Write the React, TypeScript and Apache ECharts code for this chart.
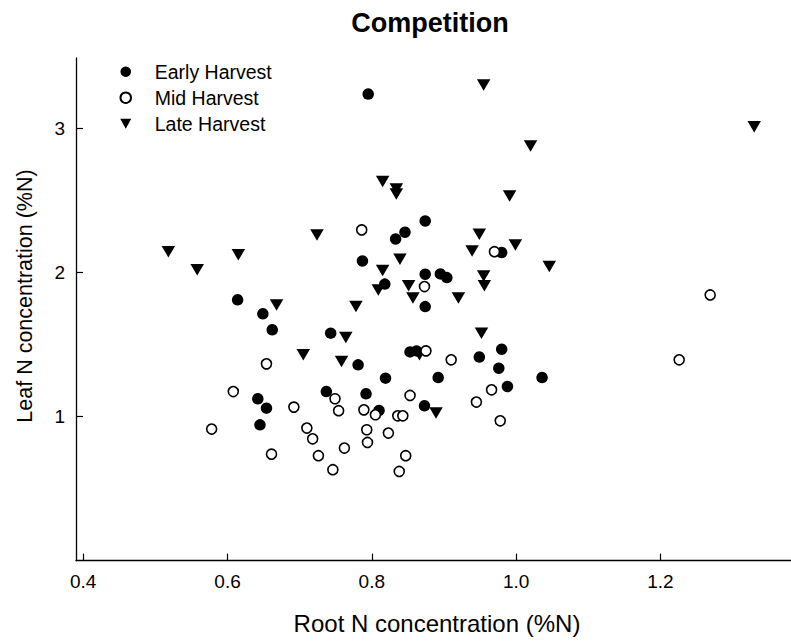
import React, { useEffect, useRef } from "react";
import * as echarts from "echarts";

const FONT = "'Liberation Sans', Arial, Helvetica, sans-serif";

const xTicks = [0.4, 0.6, 0.8, 1.0, 1.2];
const yTicks = [1, 2, 3];

const earlyHarvest: [number, number][] = [
  [0.795, 3.236], [0.874, 2.356], [0.846, 2.278], [0.833, 2.231], [0.787, 2.079],
  [0.98, 2.137], [0.818, 1.918], [0.874, 1.987], [0.895, 1.989], [0.904, 1.963],
  [0.874, 1.762], [0.743, 1.578], [0.614, 1.809], [0.649, 1.712], [0.662, 1.601],
  [0.781, 1.358], [0.819, 1.266], [0.737, 1.173], [0.792, 1.157], [0.642, 1.123],
  [0.654, 1.058], [0.645, 0.942], [0.81, 1.042], [0.853, 1.448], [0.862, 1.455],
  [0.949, 1.412], [0.98, 1.467], [0.976, 1.335], [0.988, 1.208], [1.036, 1.27],
  [0.892, 1.27], [0.873, 1.074],
];

const midHarvest: [number, number][] = [
  [0.786, 2.294], [0.97, 2.143], [0.873, 1.901], [0.654, 1.365], [0.608, 1.173],
  [0.578, 0.913], [0.692, 1.065], [0.749, 1.123], [0.754, 1.04], [0.789, 1.046],
  [0.805, 1.012], [0.71, 0.92], [0.718, 0.845], [0.793, 0.908], [0.794, 0.82],
  [0.823, 0.885], [0.762, 0.781], [0.661, 0.739], [0.726, 0.728], [0.746, 0.631],
  [0.875, 1.455], [0.91, 1.393], [0.966, 1.185], [0.945, 1.1], [0.978, 0.97],
  [0.853, 1.146], [0.836, 1.005], [0.843, 1.005], [0.847, 0.728], [0.838, 0.619],
  [1.269, 1.843], [1.226, 1.393],
];

const lateHarvest: [number, number][] = [
  [0.955, 3.299], [1.33, 3.01], [1.02, 2.876], [0.518, 2.143], [0.558, 2.017],
  [0.615, 2.121], [0.668, 1.774], [0.705, 1.428], [0.815, 2.629], [0.834, 2.578],
  [0.834, 2.543], [0.991, 2.529], [0.724, 2.259], [0.949, 2.264], [0.999, 2.19],
  [0.939, 2.148], [1.046, 2.04], [0.839, 2.091], [0.815, 2.012], [0.809, 1.878],
  [0.851, 1.906], [0.857, 1.821], [0.92, 1.821], [0.955, 1.975], [0.956, 1.906],
  [0.778, 1.762], [0.764, 1.547], [0.952, 1.578], [0.758, 1.381], [0.866, 1.428],
  [0.889, 1.024],
];

export default function App() {
  const ref = useRef<HTMLDivElement>(null);
  useEffect(() => {
    if (!ref.current) return;
    const chart = echarts.init(ref.current, null, { renderer: "svg" });
    chart.setOption({
      animation: false,
      backgroundColor: "#fff",
      title: {
        text: "Competition",
        left: 425,
        top: 4,
        textAlign: "center",
        textStyle: { fontSize: 27, fontWeight: "bold", color: "#000", fontFamily: FONT },
      },
      legend: {
        orient: "vertical",
        left: 114.5,
        top: 56.7,
        itemWidth: 11,
        itemHeight: 10.5,
        itemGap: 6,
        textStyle: {
          fontSize: 19.5,
          lineHeight: 20,
          color: "#000",
          fontFamily: FONT,
          padding: [0, 0, 0, 18.5],
        },
        data: [
          { name: "Early Harvest", icon: "circle" },
          { name: "Mid Harvest", icon: "circle" },
          { name: "Late Harvest", icon: "path://M0,0L12,0L6,11Z" },
        ],
      },
      grid: { left: 76, right: 0, top: 58, bottom: 83.3, containLabel: false },
      xAxis: {
        type: "value",
        min: 0.39,
        max: 1.381,
        axisLine: { show: true, onZero: false, lineStyle: { color: "#000", width: 1.3 } },
        axisTick: {
          show: true,
          inside: true,
          length: 7,
          customValues: xTicks,
          lineStyle: { color: "#000", width: 1.2 },
        },
        axisLabel: {
          customValues: xTicks,
          formatter: (v: number) => v.toFixed(1),
          fontSize: 19,
          color: "#000",
          fontFamily: FONT,
          margin: 11,
        },
        splitLine: { show: false },
      },
      yAxis: {
        type: "value",
        min: 0,
        max: 3.486,
        axisLine: { show: true, onZero: false, lineStyle: { color: "#000", width: 1.3 } },
        axisTick: {
          show: true,
          inside: true,
          length: 7,
          customValues: yTicks,
          lineStyle: { color: "#000", width: 1.2 },
        },
        axisLabel: {
          customValues: yTicks,
          formatter: (v: number) => String(v),
          fontSize: 19,
          color: "#000",
          fontFamily: FONT,
          margin: 11,
        },
        splitLine: { show: false },
      },
      graphic: [
        {
          type: "text",
          x: 437,
          y: 623,
          style: {
            text: "Root N concentration (%N)",
            fontSize: 24,
            fontFamily: FONT,
            fill: "#000",
            align: "center",
            verticalAlign: "middle",
          },
        },
        {
          type: "text",
          x: 25,
          y: 296,
          rotation: Math.PI / 2,
          style: {
            text: "Leaf N concentration (%N)",
            fontSize: 21.5,
            fontFamily: FONT,
            fill: "#000",
            align: "center",
            verticalAlign: "middle",
          },
        },
      ],
      series: [
        {
          name: "Early Harvest",
          type: "scatter",
          data: earlyHarvest,
          symbol: "circle",
          symbolSize: 11.5,
          itemStyle: { color: "#000", opacity: 1 },
          z: 3,
        },
        {
          name: "Mid Harvest",
          type: "scatter",
          data: midHarvest,
          symbol: "circle",
          symbolSize: 10,
          itemStyle: { color: "#fff", borderColor: "#000", borderWidth: 1.6, opacity: 1 },
          z: 4,
        },
        {
          name: "Late Harvest",
          type: "scatter",
          data: lateHarvest,
          symbol: "triangle",
          symbolRotate: 180,
          symbolSize: [13.5, 11.5],
          itemStyle: { color: "#000", opacity: 1 },
          z: 2,
        },
      ],
    });
    return () => chart.dispose();
  }, []);
  return (
    <div
      ref={ref}
      style={{ position: "absolute", left: 0, top: 0, width: 791, height: 644 }}
    />
  );
}
